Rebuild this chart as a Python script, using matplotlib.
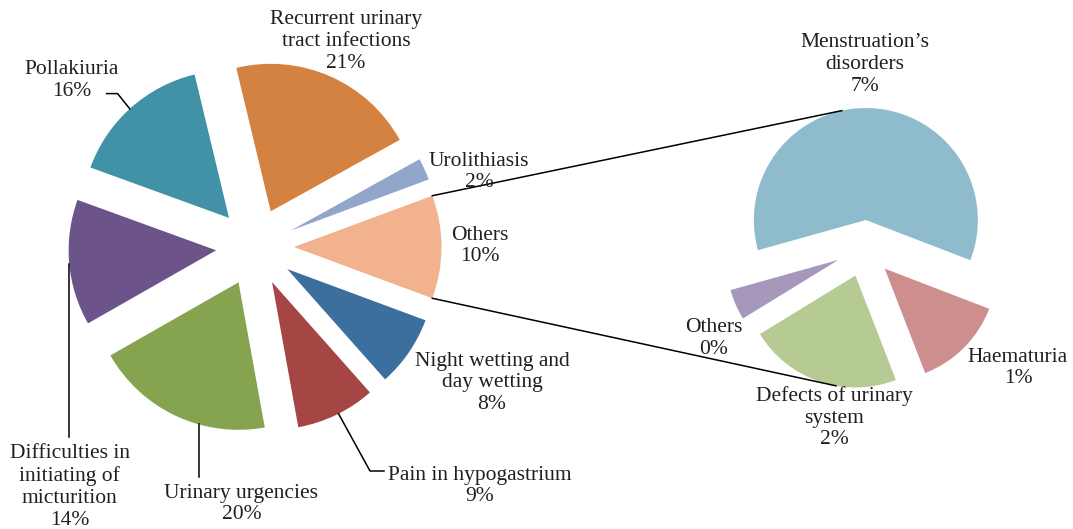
import numpy as np
import matplotlib
matplotlib.use("Agg")
import matplotlib.pyplot as plt

# ---------------- data ----------------
main_labels = ["Others", "Urolithiasis", "Recurrent urinary\ntract infections",
               "Pollakiuria", "Difficulties in\ninitiating of\nmicturition",
               "Urinary urgencies", "Pain in hypogastrium",
               "Night wetting and\nday wetting"]
main_values = [11.3, 2.4, 20.7, 15.7, 13.8, 19.6, 8.7, 7.8]
main_pct = ["10%", "2%", "21%", "16%", "14%", "20%", "9%", "8%"]
main_colors = ["#F2B28E", "#92A6CB", "#D48241", "#4292A7", "#6C548A",
               "#86A350", "#A54544", "#3C6E9E"]

sec_labels = ["Menstruation\u2019s\ndisorders", "Haematuria",
              "Defects of urinary\nsystem", "Others"]
sec_values = [6.8, 1.5, 2.5, 0.5]
sec_pct = ["7%", "1%", "2%", "0%"]
sec_colors = ["#8FBCCC", "#CD8E8D", "#B6CA94", "#A698BB"]

# ---------------- layout ----------------
W, H = 1073, 529
def py(y):
    return H - y

plt.rcParams['font.family'] = ['Liberation Serif', 'DejaVu Serif']
TXT = "#231F20"
FS = 15.5
LS = 1.2

fig = plt.figure(figsize=(W / 100, H / 100), dpi=100)
ax = fig.add_axes([0, 0, 1, 1])

main_center = (255, py(247))
main_r = 147.5
main_expl = 39
sec_center = (864.5, py(248.5))
sec_r = 112
sec_expl = 28.5

start_main = -main_values[0] / sum(main_values) * 180.0
wm, _ = ax.pie(main_values, colors=main_colors, startangle=start_main,
               counterclock=True, radius=main_r, center=main_center,
               explode=[main_expl] * len(main_values),
               wedgeprops=dict(linewidth=0))
sec_frac0 = sec_values[0] / sum(sec_values) * 360.0
start_sec = 87.3 + sec_frac0 / 2
ws, _ = ax.pie(sec_values, colors=sec_colors, startangle=start_sec,
               counterclock=False, radius=sec_r, center=sec_center,
               explode=[sec_expl] * len(sec_values),
               wedgeprops=dict(linewidth=0))

def arc_pt(w, ang):
    cx, cy = w.center
    a = np.deg2rad(ang)
    return cx + w.r * np.cos(a), cy + w.r * np.sin(a)

lw = 1.1
# connector lines between "Others" slice and secondary pie
w_oth = wm[0]
p1 = arc_pt(w_oth, w_oth.theta2)
p2 = arc_pt(w_oth, w_oth.theta1)
q1 = arc_pt(ws[0], 102.4)
q2 = arc_pt(ws[2], -100.0)
ax.plot([p1[0], q1[0]], [p1[1], q1[1]], color="black", lw=lw, zorder=3)
ax.plot([p2[0], q2[0]], [p2[1], q2[1]], color="black", lw=lw, zorder=3)

# label positions (pixel coords, y down)
main_pos = [(480, 246), (479, 172), (346, 41.5), (71.7, 80.6), (69.5, 487),
            (241.5, 504), (480, 486), (492, 383)]
sec_pos = [(865, 64.7), (1018, 368), (834.2, 417.6), (714, 338.7)]

for lab, pct, (x, y) in zip(main_labels, main_pct, main_pos):
    ax.text(x, py(y), lab + "\n" + pct, ha="center", va="center",
            multialignment="center", fontsize=FS, color=TXT, linespacing=LS)
for lab, pct, (x, y) in zip(sec_labels, sec_pct, sec_pos):
    ax.text(x, py(y), lab + "\n" + pct, ha="center", va="center",
            multialignment="center", fontsize=FS, color=TXT, linespacing=LS)

# leader lines
a = arc_pt(wm[3], 132.3)
ax.plot([a[0], 117.6, 106.6], [a[1], py(93.6), py(93.6)], color="black", lw=lw)
a = arc_pt(wm[4], 185.4)
ax.plot([a[0], a[0]], [a[1], py(436.7)], color="black", lw=lw)
a = arc_pt(wm[5], 254.3)
ax.plot([a[0], a[0]], [a[1], py(477.3)], color="black", lw=lw)
a = arc_pt(wm[6], 296.8)
ax.plot([a[0], 370, 384], [a[1], py(471), py(471)], color="black", lw=lw)

ax.set_xlim(0, W)
ax.set_ylim(0, H)
ax.set_aspect("equal")
ax.axis("off")
fig.savefig("out.png", dpi=100, facecolor="white")
